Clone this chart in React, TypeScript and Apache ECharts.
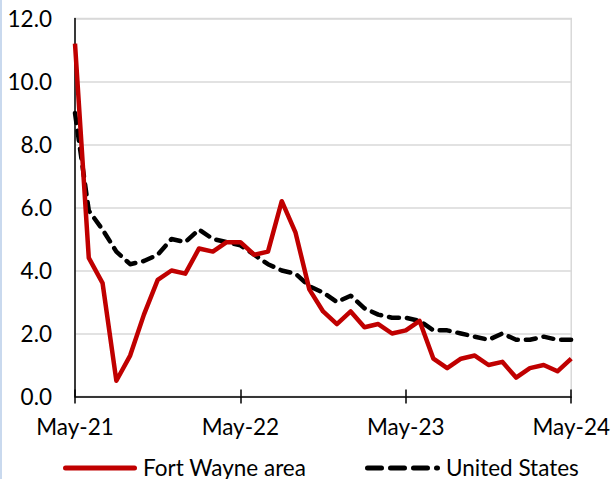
import React, { useEffect, useRef } from "react";
import * as echarts from "echarts";

const months: string[] = [
  "May-21", "Jun-21", "Jul-21", "Aug-21", "Sep-21", "Oct-21", "Nov-21", "Dec-21",
  "Jan-22", "Feb-22", "Mar-22", "Apr-22", "May-22", "Jun-22", "Jul-22", "Aug-22",
  "Sep-22", "Oct-22", "Nov-22", "Dec-22", "Jan-23", "Feb-23", "Mar-23", "Apr-23",
  "May-23", "Jun-23", "Jul-23", "Aug-23", "Sep-23", "Oct-23", "Nov-23", "Dec-23",
  "Jan-24", "Feb-24", "Mar-24", "Apr-24", "May-24",
];

const fortWayne: number[] = [
  11.2, 4.4, 3.6, 0.5, 1.3, 2.6, 3.7, 4.0, 3.9, 4.7, 4.6, 4.9,
  4.9, 4.5, 4.6, 6.2, 5.2, 3.4, 2.7, 2.3, 2.7, 2.2, 2.3, 2.0,
  2.1, 2.4, 1.2, 0.9, 1.2, 1.3, 1.0, 1.1, 0.6, 0.9, 1.0, 0.8,
  1.2,
];

const unitedStates: number[] = [
  9.0, 5.9, 5.3, 4.6, 4.2, 4.3, 4.5, 5.0, 4.9, 5.3, 5.0, 4.9,
  4.8, 4.5, 4.2, 4.0, 3.9, 3.5, 3.3, 3.0, 3.2, 2.8, 2.6, 2.5,
  2.5, 2.4, 2.1, 2.1, 2.0, 1.9, 1.8, 2.0, 1.8, 1.8, 1.9, 1.8,
  1.8,
];

const seriesNames = ["Fort Wayne area", "United States"];

const FONT = "Lato";
const FS = 22.5;
const RED = "#c00000";

export default function App() {
  const ref = useRef<HTMLDivElement>(null);

  useEffect(() => {
    document.body.style.margin = "0";
    if (!ref.current) return;
    const chart = echarts.init(ref.current, undefined, { renderer: "svg" });
    chart.setOption({
      animation: false,
      backgroundColor: "#ffffff",
      grid: {
        left: 75,
        top: 18.5,
        width: 498,
        height: 378,
        show: true,
        borderColor: "#d9d9d9",
        borderWidth: 1.5,
        backgroundColor: "transparent",
      },
      xAxis: [
        {
          type: "category",
          data: months,
          boundaryGap: false,
          position: "bottom",
          axisLine: { show: true, lineStyle: { color: "#000", width: 1.5 } },
          axisTick: {
            show: true,
            interval: 11,
            length: 7,
            lineStyle: { color: "#000", width: 1.5 },
          },
          axisLabel: {
            interval: 11,
            color: "#000",
            fontFamily: FONT,
            fontSize: FS,
            margin: 18,
          },
          splitLine: { show: false },
        },
        {
          type: "category",
          data: months,
          boundaryGap: false,
          position: "bottom",
          offset: 0,
          axisLine: { show: false },
          axisTick: {
            show: true,
            inside: true,
            interval: 11,
            length: 7,
            lineStyle: { color: "#000", width: 1.5 },
          },
          axisLabel: { show: false },
          splitLine: { show: false },
        },
      ],
      yAxis: {
        type: "value",
        min: 0,
        max: 12,
        interval: 2,
        axisLine: { show: true, lineStyle: { color: "#000", width: 1.5 } },
        axisTick: { show: false },
        axisLabel: {
          color: "#000",
          fontFamily: FONT,
          fontSize: FS,
          margin: 23,
          formatter: (v: number) => v.toFixed(1),
        },
        splitLine: { show: true, lineStyle: { color: "#d9d9d9", width: 1.5 } },
      },
      series: [
        {
          name: seriesNames[0],
          type: "line",
          data: fortWayne,
          showSymbol: false,
          symbol: "none",
          lineStyle: { color: RED, width: 4.5, join: "round" },
          itemStyle: { color: RED },
          z: 3,
        },
        {
          name: seriesNames[1],
          type: "line",
          data: unitedStates,
          showSymbol: false,
          symbol: "none",
          lineStyle: {
            color: "#000000",
            width: 4.5,
            type: [10, 8],
            cap: "round",
            join: "round",
          },
          itemStyle: { color: "#000000" },
          z: 2,
        },
      ],
      graphic: [
        {
          type: "rect",
          left: 0,
          top: 0,
          shape: { width: 2, height: 479 },
          style: { fill: "#c9d9ee" },
          silent: true,
        },
        {
          type: "line",
          shape: { x1: 65.5, y1: 468, x2: 134.5, y2: 468 },
          style: { stroke: RED, lineWidth: 5, lineCap: "round" },
          silent: true,
        },
        {
          type: "text",
          x: 143,
          y: 467,
          style: {
            text: seriesNames[0],
            fill: "#000",
            font: `${FS}px ${FONT}`,
            textVerticalAlign: "middle",
            verticalAlign: "middle",
          },
          silent: true,
        },
        {
          type: "line",
          shape: { x1: 367.5, y1: 468, x2: 437.5, y2: 468 },
          style: { stroke: "#000", lineWidth: 5, lineCap: "round", lineDash: [14, 9] },
          silent: true,
        },
        {
          type: "text",
          x: 446,
          y: 467,
          style: {
            text: seriesNames[1],
            fill: "#000",
            font: `${FS}px ${FONT}`,
            textVerticalAlign: "middle",
            verticalAlign: "middle",
          },
          silent: true,
        },
      ],
    });
    return () => chart.dispose();
  }, []);

  return <div ref={ref} style={{ width: 613, height: 479 }} />;
}
